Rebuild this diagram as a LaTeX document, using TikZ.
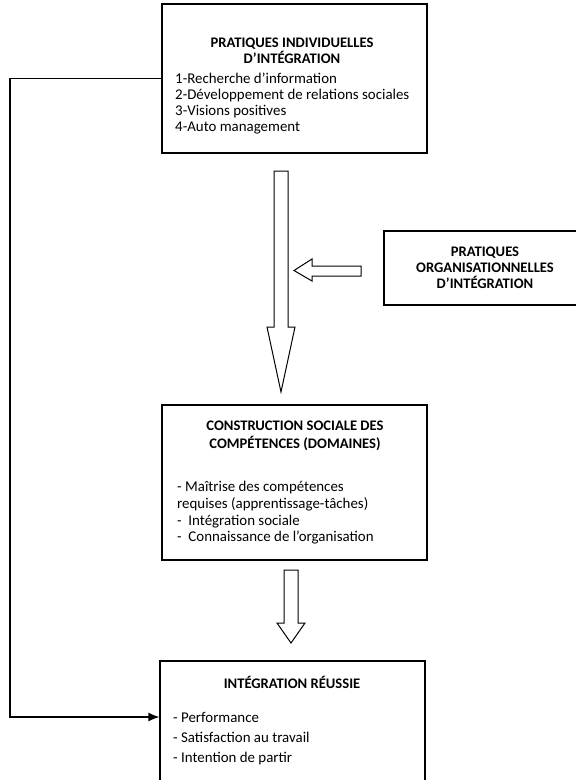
\documentclass[tikz,border=0pt]{standalone}
\usepackage{fontspec}
\setmainfont{Carlito}
\usetikzlibrary{arrows.meta}
\tikzset{>={Latex[length=11pt,width=9pt]}}
\tikzset{
  box/.style={draw, line width=1.2pt, inner sep=0pt},
  bloc/.style={draw, line width=1pt, fill=white},
  liste/.style={inner sep=0pt, align=left, font=\fontsize{14.9}{16.3}\selectfont},
  titre/.style={inner sep=0pt, align=center, font=\fontsize{14.6}{16}\selectfont\bfseries},
}

\begin{document}
\begin{tikzpicture}[x=1pt,y=-1pt]
  \useasboundingbox (0,0) rectangle (576,780);
  % boxes
  \node (indiv) at (294.5,78.5) [box, minimum width=265pt, minimum height=149pt] {};
  \node (orga) at (481,268) [box, minimum width=194pt, minimum height=74pt] {};
  \node (constr) at (294.5,482.5) [box, minimum width=265pt, minimum height=155pt] {};
  \node (reussie) at (292.5,725.5) [box, minimum width=265pt, minimum height=129pt] {};
  % texts
  \node (indivtitre) at (292,51) [titre] {PRATIQUES INDIVIDUELLES\\D’INTÉGRATION};
  \node (indivliste) at (175,103.5) [liste, anchor=west] {1-Recherche d’information\\2-Développement de relations sociales\\3-Visions positives\\4-Auto management};
  \node (orgatitre) at (485,268) [titre] {PRATIQUES\\ORGANISATIONNELLES\\D’INTÉGRATION};
  \node (constrtitre) at (295,436) [titre, font=\fontsize{14.6}{18}\selectfont\bfseries] {CONSTRUCTION SOCIALE DES\\COMPÉTENCES (DOMAINES)};
  \node (constrliste) at (177,513) [liste, anchor=west, font=\fontsize{14.9}{16.7}\selectfont] {- Maîtrise des compétences\\requises (apprentissage-tâches)\\-\ \ Intégration sociale\\-\ \ Connaissance de l’organisation};
  \node (reussietitre) at (292,682) [titre] {INTÉGRATION RÉUSSIE};
  \node (reussieliste) at (173,739) [liste, anchor=west, font=\fontsize{14.9}{20}\selectfont] {- Performance\\- Satisfaction au travail\\- Intention de partir};
  % block arrows
  \draw[bloc] (274,171) -- (288,171) -- (288,327) -- (295,327) -- (281,392) -- (267,327) -- (274,327) -- cycle;
  \draw[bloc] (361,266) -- (312,266) -- (312,259) -- (294,270.5) -- (312,281) -- (312,276) -- (361,276) -- cycle;
  \draw[bloc] (284,570) -- (298,570) -- (298,623) -- (305,623) -- (291,643) -- (277,623) -- (284,623) -- cycle;
  % feedback line
  \coordinate (entree) at (reussie.west |- 0,717);
  \draw[->, line width=1.2pt] (indiv.west) -- (10,78.5) -- (10,717) -- (entree);
\end{tikzpicture}
\end{document}
